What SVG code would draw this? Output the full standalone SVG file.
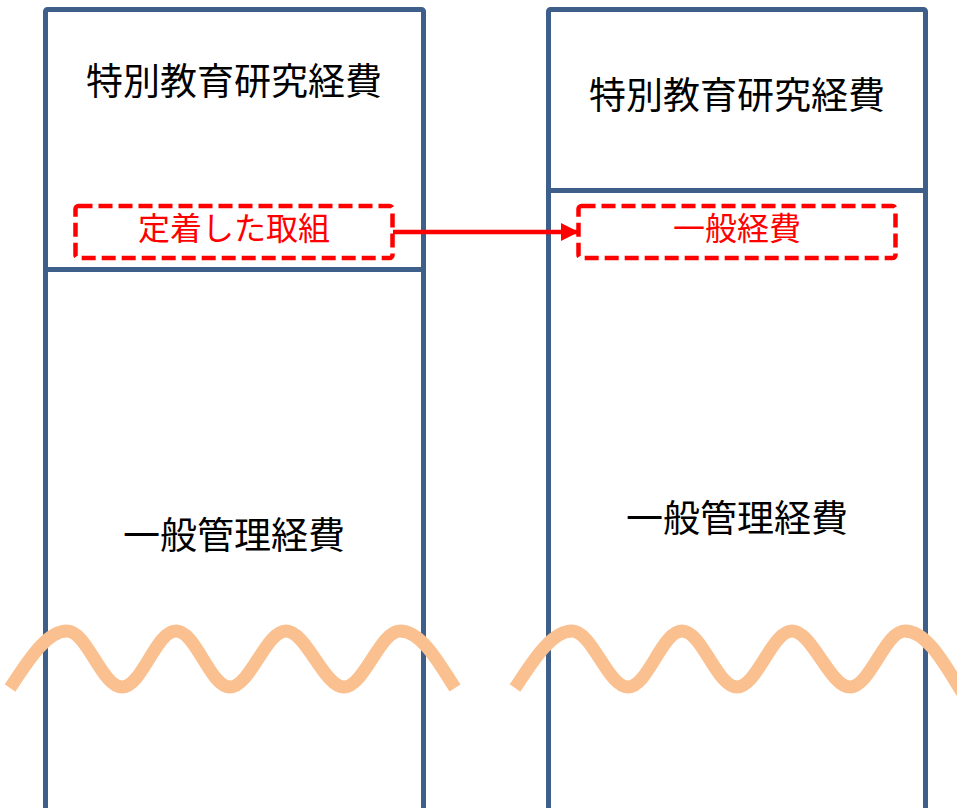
<svg xmlns="http://www.w3.org/2000/svg" width="957" height="808" viewBox="0 0 957 808">
<defs>
<style>
.col{fill:#fff;stroke:#3E5F8A;stroke-width:5}
.div{stroke:#3E5F8A;stroke-width:5}
.dash{fill:none;stroke:#FF0000;stroke-width:4.5;stroke-dasharray:14 6}
.t{font-family:"Noto Sans CJK JP","Noto Sans",sans-serif;text-anchor:middle}
.big{font-size:37px;fill:#000}
.red{font-size:32px;fill:#FF0000}
.wave{fill:none;stroke:#FAC090;stroke-width:13}
</style>
<marker id="ah" markerWidth="4" markerHeight="4" refX="3.6" refY="2" orient="auto" markerUnits="strokeWidth">
<path d="M0,0 L4,2 L0,4 z" fill="#FF0000"/>
</marker>
</defs>
<rect width="957" height="808" fill="#fff"/>
<g id="left-column">
<rect class="col" x="45.5" y="9.5" width="378" height="805" rx="2"/>
<line class="div" x1="45.5" y1="269.5" x2="423.5" y2="269.5"/>
<text class="t big" x="234" y="95">特別教育研究経費</text>
<text class="t big" x="234" y="549">一般管理経費</text>
</g>
<g id="right-column">
<rect class="col" x="548.5" y="9.5" width="377" height="805" rx="2"/>
<line class="div" x1="548.5" y1="190.5" x2="925.5" y2="190.5"/>
<text class="t big" x="737" y="109">特別教育研究経費</text>
<text class="t big" x="737" y="532">一般管理経費</text>
</g>
<g id="node-teichaku">
<rect class="dash" x="75.5" y="206" width="317" height="52" rx="3"/>
<text class="t red" x="234" y="240">定着した取組</text>
</g>
<g id="node-ippan">
<rect class="dash" x="578.5" y="206" width="317" height="52" rx="3"/>
<text class="t red" x="737" y="240">一般経費</text>
</g>
<g id="connectors">
<line x1="393" y1="232" x2="577" y2="232" stroke="#FF0000" stroke-width="4.5" marker-end="url(#ah)"/>
</g>
<g id="waves">
<path class="wave" d="M10,688 C25,666 45,631 67,631 C87,631 102,687 122,687 C142,687 156,631 176,631 C196,631 210,687 230,687 C250,687 266,631 286,631 C306,631 324,687 344,687 C364,687 380,631 400,631 C422,631 440,665 455,688"/>
<path class="wave" d="M515,688 C530,666 550,631 572,631 C592,631 608,687 628,687 C648,687 662,631 682,631 C702,631 717,687 737,687 C757,687 772,631 792,631 C812,631 830,687 850,687 C870,687 885,631 905,631 C927,631 945,665 962,692"/>
</g>
</svg>
